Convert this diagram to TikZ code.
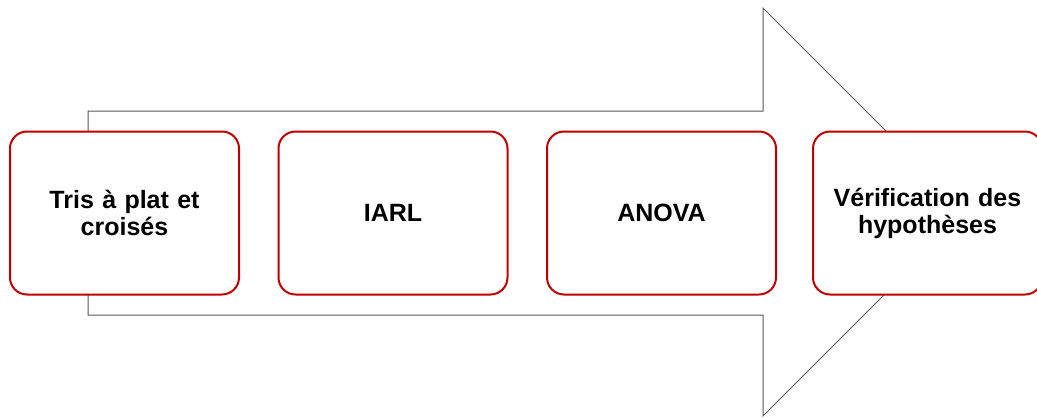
\documentclass[tikz,border=0pt]{standalone}
\usepackage{fontspec}
\setmainfont{Liberation Sans}
\definecolor{boxred}{HTML}{C00000}
\definecolor{arrowgray}{HTML}{595959}
\begin{document}
\begin{tikzpicture}[x=1pt,y=-1pt,
  stepbox/.style={draw=boxred, line width=2pt, fill=white, rounded corners=17pt,
    minimum width=229pt, minimum height=163pt, inner sep=0pt, align=center,
    font=\fontsize{25}{27}\selectfont\bfseries, text width=220pt},
  bigarrow/.style={draw=arrowgray, line width=1pt, fill=white}]
\useasboundingbox (0,0) rectangle (1037,418);
\coordinate (a1) at (88,111);
\coordinate (a2) at (763,111);
\coordinate (a3) at (763,8);
\coordinate (tip) at (967,212);
\coordinate (a5) at (763,416);
\coordinate (a6) at (763,315);
\coordinate (a7) at (88,315);
\draw[bigarrow] (a1) -- (a2) -- (a3) -- (tip) -- (a5) -- (a6) -- (a7) -- cycle;
\node[stepbox] (b1) at (124.5,213) {Tris à plat et\\croisés};
\node[stepbox] (b2) at (393,213) {IARL};
\node[stepbox] (b3) at (661.5,213) {ANOVA};
\node[stepbox] (b4) at (927.5,213) {Vérification des\\hypothèses};
\end{tikzpicture}
\end{document}
